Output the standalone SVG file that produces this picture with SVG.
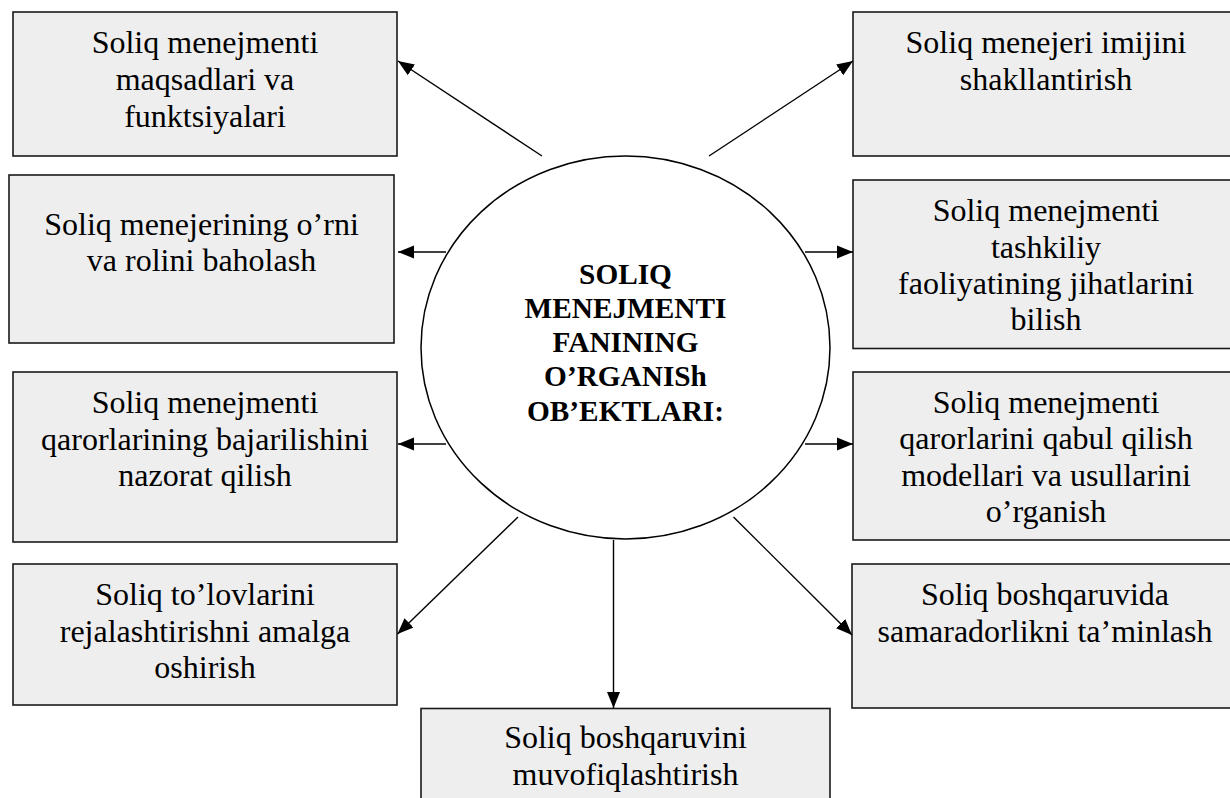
<svg xmlns="http://www.w3.org/2000/svg" width="1230" height="798" viewBox="0 0 1230 798">
<style>
.box{fill:#eeeeee;stroke:#1a1a1a;stroke-width:1.6}
.t{font-family:'Liberation Serif','Times New Roman',Tinos,'DejaVu Serif',serif;font-size:32px;fill:#000;text-anchor:middle}
.c{font-family:'Liberation Serif','Times New Roman',Tinos,'DejaVu Serif',serif;font-size:29.3px;font-weight:bold;fill:#000;text-anchor:middle}
.ln{stroke:#000;stroke-width:1.4;fill:none;marker-end:url(#ah)}
</style>
<defs>
<marker id="ah" markerUnits="userSpaceOnUse" markerWidth="17" markerHeight="14" refX="16" refY="7" orient="auto">
<path d="M0,0.5 L16,7 L0,13.5 z" fill="#000"/>
</marker>
</defs>
<rect width="1230" height="798" fill="#fff"/>

<g id="box-l1">
<rect class="box" x="13" y="12" width="384" height="144"/>
<text class="t" x="205" y="53">Soliq menejmenti</text>
<text class="t" x="205" y="90">maqsadlari va</text>
<text class="t" x="205" y="127">funktsiyalari</text>
</g>
<g id="box-l2">
<rect class="box" x="9" y="175" width="385" height="168"/>
<text class="t" x="201.5" y="235">Soliq menejerining o’rni</text>
<text class="t" x="201.5" y="271">va rolini baholash</text>
</g>
<g id="box-l3">
<rect class="box" x="13" y="372" width="384" height="170"/>
<text class="t" x="205" y="413">Soliq menejmenti</text>
<text class="t" x="205" y="450">qarorlarining bajarilishini</text>
<text class="t" x="205" y="486">nazorat qilish</text>
</g>
<g id="box-l4">
<rect class="box" x="13" y="564" width="384" height="141"/>
<text class="t" x="205" y="605">Soliq to’lovlarini</text>
<text class="t" x="205" y="642">rejalashtirishni amalga</text>
<text class="t" x="205" y="678">oshirish</text>
</g>
<g id="box-r1">
<rect class="box" x="853" y="12" width="386" height="144"/>
<text class="t" x="1046" y="53">Soliq menejeri imijini</text>
<text class="t" x="1046" y="90">shakllantirish</text>
</g>
<g id="box-r2">
<rect class="box" x="853" y="180" width="386" height="168.5"/>
<text class="t" x="1046" y="221">Soliq menejmenti</text>
<text class="t" x="1046" y="258">tashkiliy</text>
<text class="t" x="1046" y="294">faoliyatining jihatlarini</text>
<text class="t" x="1046" y="330">bilish</text>
</g>
<g id="box-r3">
<rect class="box" x="853" y="372" width="386" height="168"/>
<text class="t" x="1046" y="413">Soliq menejmenti</text>
<text class="t" x="1046" y="449">qarorlarini qabul qilish</text>
<text class="t" x="1046" y="486">modellari va usullarini</text>
<text class="t" x="1046" y="522">o’rganish</text>
</g>
<g id="box-r4">
<rect class="box" x="852" y="564" width="386" height="144"/>
<text class="t" x="1045" y="605">Soliq boshqaruvida</text>
<text class="t" x="1045" y="642">samaradorlikni ta’minlash</text>
</g>
<g id="box-bottom">
<rect class="box" x="421" y="708.5" width="409" height="110"/>
<text class="t" x="625.5" y="748">Soliq boshqaruvini</text>
<text class="t" x="625.5" y="785">muvofiqlashtirish</text>
</g>

<g id="center">
<ellipse cx="625.5" cy="347.5" rx="204.5" ry="191.5" fill="#fff" stroke="#000" stroke-width="1.5"/>
<text class="c" x="625.5" y="284">SOLIQ</text>
<text class="c" x="625.5" y="318">MENEJMENTI</text>
<text class="c" x="625.5" y="352">FANINING</text>
<text class="c" x="625.5" y="386">O’RGANISh</text>
<text class="c" x="625.5" y="421">OB’EKTLARI:</text>
</g>

<g id="connectors">
<line class="ln" x1="542" y1="156" x2="398" y2="61"/>
<line class="ln" x1="446" y1="252" x2="398" y2="252"/>
<line class="ln" x1="446" y1="444" x2="398" y2="444"/>
<line class="ln" x1="518" y1="517" x2="397.5" y2="634"/>
<line class="ln" x1="613.5" y1="540" x2="613.5" y2="708"/>
<line class="ln" x1="733.5" y1="517" x2="852" y2="635"/>
<line class="ln" x1="805" y1="444" x2="853" y2="444"/>
<line class="ln" x1="805" y1="252" x2="853" y2="252"/>
<line class="ln" x1="709" y1="156" x2="853" y2="61"/>
</g>
</svg>
